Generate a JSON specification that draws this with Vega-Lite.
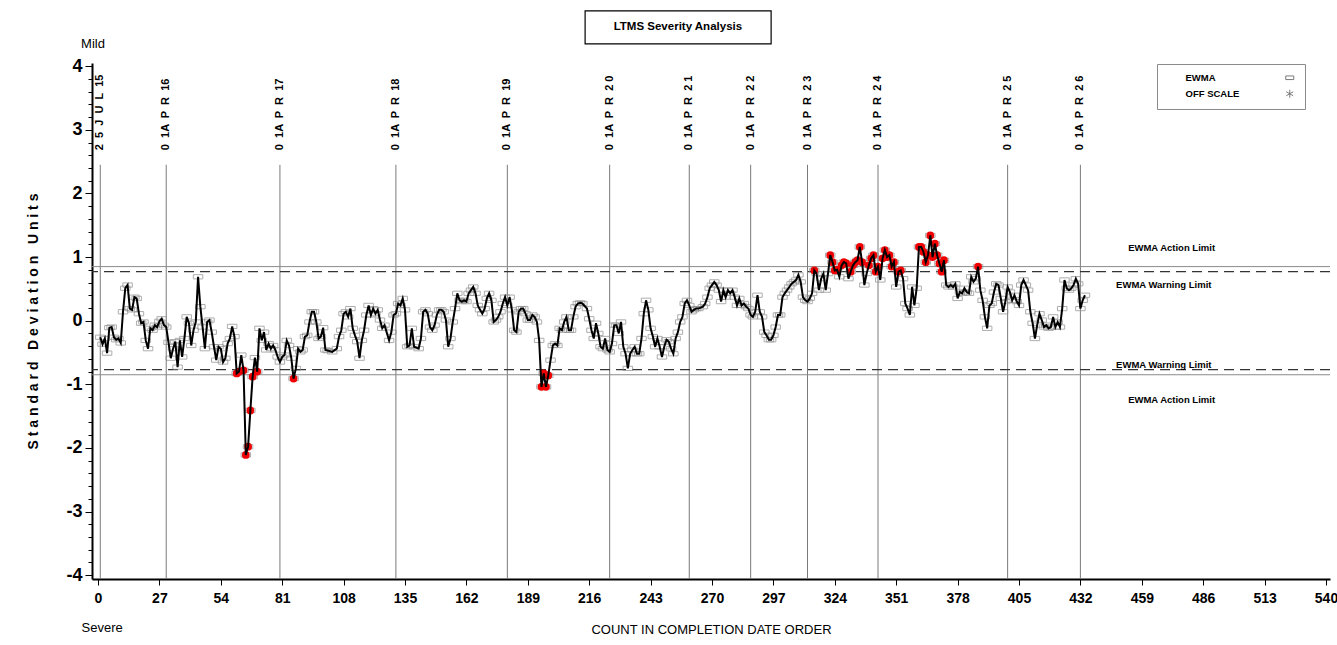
{
  "$schema": "https://vega.github.io/schema/vega-lite/v6.json",
  "width": 1238,
  "height": 516,
  "autosize": {"type": "none"},
  "padding": {"left": 92, "top": 63, "right": 7, "bottom": 66},
  "background": "white",
  "config": {"view": {"stroke": null}, "font": "Liberation Sans"},
  "datasets": {
    "dates": [
      {"n": 1, "label": "2 \u00a05 \u00a0J \u00a0U \u00a0L \u00a015"},
      {"n": 30, "label": "0 \u00a01A \u00a0P \u00a0R \u00a016"},
      {"n": 80, "label": "0 \u00a01A \u00a0P \u00a0R \u00a017"},
      {"n": 131, "label": "0 \u00a01A \u00a0P \u00a0R \u00a018"},
      {"n": 180, "label": "0 \u00a01A \u00a0P \u00a0R \u00a019"},
      {"n": 225, "label": "0 \u00a01A \u00a0P \u00a0R \u00a02 0"},
      {"n": 260, "label": "0 \u00a01A \u00a0P \u00a0R \u00a02 1"},
      {"n": 287, "label": "0 \u00a01A \u00a0P \u00a0R \u00a02 2"},
      {"n": 312, "label": "0 \u00a01A \u00a0P \u00a0R \u00a02 3"},
      {"n": 343, "label": "0 \u00a01A \u00a0P \u00a0R \u00a02 4"},
      {"n": 400, "label": "0 \u00a01A \u00a0P \u00a0R \u00a02 5"},
      {"n": 432, "label": "0 \u00a01A \u00a0P \u00a0R \u00a02 6"}
    ],
    "ewma": [
      {"n":1,"v":-0.26},{"n":2,"v":-0.37},{"n":3,"v":-0.28},{"n":4,"v":-0.51},{"n":5,"v":-0.11},{"n":6,"v":-0.10},{"n":7,"v":-0.26},{"n":8,"v":-0.30},{"n":9,"v":-0.28},{"n":10,"v":-0.35},
      {"n":11,"v":0.14},{"n":12,"v":0.51},{"n":13,"v":0.56},{"n":14,"v":0.19},{"n":15,"v":0.17},{"n":16,"v":0.37},{"n":17,"v":0.35},{"n":18,"v":0.11},{"n":19,"v":-0.04},{"n":20,"v":-0.02},
      {"n":21,"v":-0.31},{"n":22,"v":-0.44},{"n":23,"v":-0.12},{"n":24,"v":-0.15},{"n":25,"v":-0.07},{"n":26,"v":-0.10},{"n":27,"v":-0.01},{"n":28,"v":0.03},{"n":29,"v":-0.07},{"n":30,"v":-0.10},
      {"n":31,"v":-0.34},{"n":32,"v":-0.59},{"n":33,"v":-0.44},{"n":34,"v":-0.33},{"n":35,"v":-0.73},{"n":36,"v":-0.31},{"n":37,"v":-0.57},{"n":38,"v":-0.28},{"n":39,"v":0.06},{"n":40,"v":-0.04},
      {"n":41,"v":-0.39},{"n":42,"v":-0.15},{"n":43,"v":-0.02},{"n":44,"v":0.69},{"n":45,"v":0.22},{"n":46,"v":-0.10},{"n":47,"v":-0.44},{"n":48,"v":-0.02},{"n":49,"v":0.01},{"n":50,"v":-0.18},
      {"n":51,"v":-0.41},{"n":52,"v":-0.62},{"n":53,"v":-0.41},{"n":54,"v":-0.44},{"n":55,"v":-0.65},{"n":56,"v":-0.59},{"n":57,"v":-0.36},{"n":58,"v":-0.28},{"n":59,"v":-0.09},{"n":60,"v":-0.25},
      {"n":61,"v":-0.83},{"n":62,"v":-0.80},{"n":63,"v":-0.54},{"n":64,"v":-0.78},{"n":65,"v":-2.11},{"n":66,"v":-1.98},{"n":67,"v":-1.41},{"n":68,"v":-0.88},{"n":69,"v":-0.58},{"n":70,"v":-0.80},
      {"n":71,"v":-0.12},{"n":72,"v":-0.31},{"n":73,"v":-0.18},{"n":74,"v":-0.46},{"n":75,"v":-0.36},{"n":76,"v":-0.44},{"n":77,"v":-0.39},{"n":78,"v":-0.46},{"n":79,"v":-0.57},{"n":80,"v":-0.65},
      {"n":81,"v":-0.57},{"n":82,"v":-0.54},{"n":83,"v":-0.31},{"n":84,"v":-0.39},{"n":85,"v":-0.59},{"n":86,"v":-0.91},{"n":87,"v":-0.75},{"n":88,"v":-0.44},{"n":89,"v":-0.49},{"n":90,"v":-0.46},
      {"n":91,"v":-0.25},{"n":92,"v":-0.23},{"n":93,"v":-0.02},{"n":94,"v":0.14},{"n":95,"v":0.14},{"n":96,"v":-0.02},{"n":97,"v":-0.28},{"n":98,"v":-0.25},{"n":99,"v":-0.11},{"n":100,"v":-0.46},
      {"n":101,"v":-0.47},{"n":103,"v":-0.49},{"n":105,"v":-0.44},{"n":106,"v":-0.25},{"n":107,"v":-0.15},{"n":108,"v":0.11},{"n":109,"v":0.14},{"n":110,"v":0.06},
      {"n":111,"v":0.19},{"n":112,"v":-0.12},{"n":113,"v":-0.23},{"n":114,"v":-0.33},{"n":115,"v":-0.59},{"n":116,"v":-0.31},{"n":117,"v":-0.15},{"n":118,"v":0.09},{"n":119,"v":0.24},{"n":120,"v":0.09},
      {"n":121,"v":0.19},{"n":122,"v":0.11},{"n":123,"v":0.17},{"n":124,"v":0.01},{"n":125,"v":-0.12},{"n":126,"v":-0.07},{"n":128,"v":-0.31},{"n":129,"v":-0.18},{"n":130,"v":0.09},
      {"n":131,"v":0.11},{"n":132,"v":0.27},{"n":133,"v":0.24},{"n":134,"v":0.35},{"n":135,"v":0.17},{"n":136,"v":-0.41},{"n":137,"v":-0.39},{"n":138,"v":-0.12},{"n":139,"v":-0.41},
      {"n":141,"v":-0.44},{"n":142,"v":-0.28},{"n":143,"v":0.14},{"n":144,"v":0.17},{"n":145,"v":0.11},{"n":146,"v":-0.10},{"n":147,"v":-0.15},{"n":148,"v":-0.07},{"n":149,"v":0.09},{"n":150,"v":0.17},
      {"n":151,"v":0.17},{"n":152,"v":0.14},{"n":153,"v":0.01},{"n":154,"v":-0.41},{"n":155,"v":-0.28},{"n":156,"v":-0.02},{"n":157,"v":0.19},{"n":158,"v":0.43},{"n":159,"v":0.32},{"n":160,"v":0.30},
      {"n":161,"v":0.32},{"n":162,"v":0.30},{"n":163,"v":0.43},{"n":164,"v":0.48},{"n":165,"v":0.53},{"n":166,"v":0.43},{"n":167,"v":0.24},{"n":168,"v":0.17},{"n":169,"v":0.11},{"n":170,"v":0.19},
      {"n":171,"v":0.35},{"n":172,"v":0.43},{"n":173,"v":0.32},{"n":174,"v":-0.02},{"n":175,"v":0.01},{"n":176,"v":0.06},{"n":177,"v":0.14},{"n":178,"v":0.27},{"n":179,"v":0.37},{"n":180,"v":0.24},
      {"n":181,"v":0.37},{"n":182,"v":0.17},{"n":183,"v":-0.15},{"n":184,"v":-0.18},{"n":185,"v":0.14},{"n":186,"v":0.19},{"n":187,"v":0.19},{"n":188,"v":0.11},{"n":189,"v":0.01},{"n":190,"v":0.01},
      {"n":191,"v":0.09},{"n":192,"v":0.06},{"n":193,"v":-0.02},{"n":194,"v":-0.31},{"n":195,"v":-1.04},{"n":196,"v":-0.83},{"n":197,"v":-1.04},{"n":198,"v":-0.86},{"n":199,"v":-0.62},{"n":200,"v":-0.39},
      {"n":201,"v":-0.36},{"n":202,"v":-0.39},{"n":203,"v":-0.12},{"n":204,"v":-0.15},{"n":205,"v":-0.02},{"n":206,"v":0.06},{"n":207,"v":-0.15},{"n":208,"v":-0.15},{"n":209,"v":0.06},{"n":210,"v":0.22},
      {"n":211,"v":0.27},{"n":212,"v":0.28},{"n":213,"v":0.27},{"n":215,"v":0.19},{"n":216,"v":0.03},{"n":217,"v":-0.15},{"n":218,"v":-0.28},{"n":219,"v":-0.04},{"n":220,"v":-0.20},
      {"n":221,"v":-0.41},{"n":222,"v":-0.44},{"n":223,"v":-0.28},{"n":224,"v":-0.46},{"n":225,"v":-0.49},{"n":226,"v":-0.36},{"n":227,"v":-0.07},{"n":228,"v":-0.07},{"n":229,"v":-0.20},{"n":230,"v":-0.02},
      {"n":231,"v":-0.41},{"n":232,"v":-0.52},{"n":233,"v":-0.75},{"n":234,"v":-0.52},{"n":235,"v":-0.46},{"n":236,"v":-0.41},{"n":237,"v":-0.52},{"n":238,"v":-0.52},{"n":239,"v":-0.28},{"n":240,"v":0.11},
      {"n":241,"v":0.32},{"n":242,"v":0.17},{"n":243,"v":-0.12},{"n":244,"v":-0.25},{"n":245,"v":-0.41},{"n":246,"v":-0.28},{"n":247,"v":-0.41},{"n":248,"v":-0.57},{"n":249,"v":-0.41},{"n":250,"v":-0.30},
      {"n":251,"v":-0.33},{"n":252,"v":-0.44},{"n":253,"v":-0.52},{"n":254,"v":-0.28},{"n":255,"v":-0.18},{"n":256,"v":-0.02},{"n":257,"v":0.06},{"n":258,"v":0.27},{"n":259,"v":0.32},{"n":260,"v":0.24},
      {"n":261,"v":0.14},{"n":262,"v":0.17},{"n":263,"v":0.19},{"n":264,"v":0.19},{"n":266,"v":0.22},{"n":267,"v":0.27},{"n":268,"v":0.37},{"n":269,"v":0.51},{"n":270,"v":0.56},
      {"n":271,"v":0.61},{"n":272,"v":0.56},{"n":273,"v":0.48},{"n":274,"v":0.30},{"n":275,"v":0.48},{"n":276,"v":0.37},{"n":277,"v":0.48},{"n":278,"v":0.43},{"n":279,"v":0.48},{"n":280,"v":0.37},
      {"n":281,"v":0.24},{"n":282,"v":0.35},{"n":283,"v":0.24},{"n":284,"v":0.27},{"n":285,"v":0.22},{"n":286,"v":0.19},{"n":287,"v":0.09},{"n":288,"v":0.06},{"n":289,"v":0.14},{"n":290,"v":0.40},
      {"n":291,"v":0.14},{"n":292,"v":0.06},{"n":293,"v":-0.18},{"n":294,"v":-0.23},{"n":295,"v":-0.30},{"n":296,"v":-0.30},{"n":297,"v":-0.23},{"n":298,"v":-0.10},{"n":299,"v":0.09},{"n":300,"v":0.09},
      {"n":301,"v":0.37},{"n":302,"v":0.43},{"n":303,"v":0.48},{"n":304,"v":0.53},{"n":305,"v":0.58},{"n":306,"v":0.61},{"n":307,"v":0.64},{"n":308,"v":0.72},{"n":309,"v":0.61},{"n":310,"v":0.37},
      {"n":311,"v":0.32},{"n":312,"v":0.30},{"n":313,"v":0.35},{"n":314,"v":0.43},{"n":315,"v":0.79},{"n":316,"v":0.74},{"n":317,"v":0.48},{"n":318,"v":0.66},{"n":319,"v":0.74},{"n":320,"v":0.48},
      {"n":321,"v":0.74},{"n":322,"v":1.03},{"n":323,"v":0.92},{"n":324,"v":0.79},{"n":325,"v":0.80},{"n":326,"v":0.69},{"n":327,"v":0.87},{"n":328,"v":0.92},{"n":329,"v":0.90},{"n":330,"v":0.66},
      {"n":331,"v":0.77},{"n":332,"v":0.87},{"n":333,"v":0.92},{"n":334,"v":0.95},{"n":335,"v":1.16},{"n":336,"v":0.92},{"n":337,"v":0.56},{"n":338,"v":0.74},{"n":339,"v":0.87},{"n":340,"v":0.98},
      {"n":341,"v":1.03},{"n":342,"v":0.77},{"n":343,"v":0.85},{"n":344,"v":0.64},{"n":345,"v":0.98},{"n":346,"v":1.11},{"n":347,"v":1.00},{"n":348,"v":1.03},{"n":349,"v":0.85},{"n":350,"v":0.92},
      {"n":351,"v":0.53},{"n":352,"v":0.77},{"n":353,"v":0.79},{"n":354,"v":0.66},{"n":355,"v":0.27},{"n":356,"v":0.19},{"n":357,"v":0.09},{"n":358,"v":0.53},{"n":359,"v":0.24},{"n":360,"v":0.51},
      {"n":361,"v":1.16},{"n":362,"v":1.16},{"n":363,"v":1.08},{"n":364,"v":0.92},{"n":365,"v":1.03},{"n":366,"v":1.34},{"n":367,"v":1.00},{"n":368,"v":1.21},{"n":369,"v":1.03},{"n":370,"v":0.90},
      {"n":371,"v":0.77},{"n":372,"v":0.95},{"n":373,"v":0.56},{"n":374,"v":0.53},{"n":375,"v":0.56},{"n":376,"v":0.53},{"n":377,"v":0.58},{"n":378,"v":0.35},{"n":379,"v":0.45},{"n":380,"v":0.43},
      {"n":381,"v":0.51},{"n":382,"v":0.45},{"n":383,"v":0.43},{"n":384,"v":0.69},{"n":385,"v":0.61},{"n":386,"v":0.66},{"n":387,"v":0.85},{"n":388,"v":0.48},{"n":389,"v":0.32},{"n":390,"v":0.06},
      {"n":391,"v":-0.12},{"n":392,"v":0.24},{"n":393,"v":0.27},{"n":394,"v":0.45},{"n":395,"v":0.58},{"n":396,"v":0.56},{"n":397,"v":0.35},{"n":398,"v":0.14},{"n":399,"v":0.30},{"n":400,"v":0.53},
      {"n":401,"v":0.45},{"n":402,"v":0.32},{"n":403,"v":0.40},{"n":404,"v":0.30},{"n":405,"v":0.24},{"n":406,"v":0.56},{"n":407,"v":0.64},{"n":408,"v":0.56},{"n":409,"v":0.48},{"n":410,"v":0.14},
      {"n":411,"v":-0.04},{"n":412,"v":-0.28},{"n":413,"v":-0.07},{"n":414,"v":0.11},{"n":415,"v":0.01},{"n":416,"v":-0.10},{"n":417,"v":-0.07},{"n":418,"v":-0.12},{"n":419,"v":-0.10},{"n":420,"v":0.06},
      {"n":421,"v":-0.10},{"n":422,"v":-0.02},{"n":423,"v":-0.10},{"n":424,"v":0.19},{"n":425,"v":0.64},{"n":426,"v":0.51},{"n":427,"v":0.48},{"n":428,"v":0.51},{"n":429,"v":0.56},{"n":430,"v":0.66},
      {"n":431,"v":0.58},{"n":432,"v":0.19},{"n":433,"v":0.32},{"n":434,"v":0.40}
    ]
  },
  "resolve": {"axis": {"y": "independent"}},
  "layer": [
    {
      "layer": [
        {
          "data": {"name": "dates"},
          "mark": {"type": "rule", "color": "#7a7a7a", "strokeWidth": 1},
          "encoding": {
            "x": {
              "field": "n", "type": "quantitative",
              "scale": {"domain": [-2.64, 541.76], "nice": false, "zero": false},
              "axis": {
                "title": "COUNT IN COMPLETION DATE ORDER",
                "values": [0,6.75,13.5,20.25,27,33.75,40.5,47.25,54,60.75,67.5,74.25,81,87.75,94.5,101.25,108,114.75,121.5,128.25,135,141.75,148.5,155.25,162,168.75,175.5,182.25,189,195.75,202.5,209.25,216,222.75,229.5,236.25,243,249.75,256.5,263.25,270,276.75,283.5,290.25,297,303.75,310.5,317.25,324,330.75,337.5,344.25,351,357.75,364.5,371.25,378,384.75,391.5,398.25,405,411.75,418.5,425.25,432,438.75,445.5,452.25,459,465.75,472.5,479.25,486,492.75,499.5,506.25,513,519.75,526.5,533.25,540],
                "labelExpr": "datum.value % 27 === 0 ? '' + datum.value : ''",
                "tickSize": {"condition": {"test": "datum.value % 27 === 0", "value": 6}, "value": 3},
                "tickColor": "black", "tickWidth": 1,
                "domainColor": "black", "domainWidth": 2,
                "labelFont": "Liberation Sans", "labelFontSize": 14, "labelFontWeight": "bold", "labelColor": "black",
                "labelPadding": 6, "labelOverlap": false, "labelFlush": false,
                "titleFont": "Liberation Sans", "titleFontSize": 13, "titleFontWeight": "normal",
                "titleColor": "black", "titlePadding": 18,
                "grid": false
              }
            },
            "y": {
              "datum": 2.45, "type": "quantitative",
              "scale": {"domain": [-4.06, 4.05], "nice": false, "zero": false},
              "axis": {
                "title": "S t a n d a r d \u00a0 D e v i a t i o n \u00a0 U n i t s",
                "values": [-4,-3,-2,-1,0,1,2,3,4],
                "labelExpr": "'' + round(datum.value)",
                "tickSize": 7,
                "tickColor": "black", "tickWidth": 1,
                "domainColor": "black", "domainWidth": 2,
                "labelFont": "Liberation Sans", "labelFontSize": 18, "labelFontWeight": "bold", "labelColor": "black",
                "labelPadding": 3, "labelOverlap": false, "labelFlush": false,
                "titleFont": "Liberation Sans", "titleFontSize": 14, "titleFontWeight": "bold",
                "titleColor": "black", "titlePadding": 25,
                "grid": false
              }
            },
            "y2": {"datum": -4.06}
          }
        },
        {
          "data": {"name": "dates"},
          "mark": {"type": "text", "angle": 270, "align": "left", "baseline": "middle", "fontSize": 11, "fontWeight": "bold", "font": "Liberation Sans", "color": "black"},
          "encoding": {
            "x": {"field": "n", "type": "quantitative"},
            "y": {"datum": 2.68, "type": "quantitative"},
            "text": {"field": "label"}
          }
        },
        {
          "data": {"values": [{}]},
          "mark": {"type": "rule", "color": "#8a8a8a", "strokeWidth": 1},
          "encoding": {"y": {"datum": 0.85, "type": "quantitative"}}
        },
        {
          "data": {"values": [{}]},
          "mark": {"type": "rule", "color": "#8a8a8a", "strokeWidth": 1},
          "encoding": {"y": {"datum": -0.85, "type": "quantitative"}}
        },
        {
          "data": {"values": [{}]},
          "mark": {"type": "rule", "color": "#333333", "strokeWidth": 1.3, "strokeDash": [10, 6]},
          "encoding": {"y": {"datum": 0.77, "type": "quantitative"}}
        },
        {
          "data": {"values": [{}]},
          "mark": {"type": "rule", "color": "#333333", "strokeWidth": 1.3, "strokeDash": [10, 6]},
          "encoding": {"y": {"datum": -0.77, "type": "quantitative"}}
        },
        {
          "data": {"values": [{}]},
          "mark": {"type": "text", "align": "left", "baseline": "middle", "fontSize": 9.5, "fontWeight": "bold", "color": "black"},
          "encoding": {"x": {"datum": 453, "type": "quantitative"}, "y": {"datum": 1.14, "type": "quantitative"}, "text": {"value": "EWMA Action Limit"}}
        },
        {
          "data": {"values": [{}]},
          "mark": {"type": "text", "align": "left", "baseline": "middle", "fontSize": 9.5, "fontWeight": "bold", "color": "black"},
          "encoding": {"x": {"datum": 447.7, "type": "quantitative"}, "y": {"datum": 0.56, "type": "quantitative"}, "text": {"value": "EWMA Warning Limit"}}
        },
        {
          "data": {"values": [{}]},
          "mark": {"type": "text", "align": "left", "baseline": "middle", "fontSize": 9.5, "fontWeight": "bold", "color": "black"},
          "encoding": {"x": {"datum": 447.7, "type": "quantitative"}, "y": {"datum": -0.70, "type": "quantitative"}, "text": {"value": "EWMA Warning Limit"}}
        },
        {
          "data": {"values": [{}]},
          "mark": {"type": "text", "align": "left", "baseline": "middle", "fontSize": 9.5, "fontWeight": "bold", "color": "black"},
          "encoding": {"x": {"datum": 453, "type": "quantitative"}, "y": {"datum": -1.25, "type": "quantitative"}, "text": {"value": "EWMA Action Limit"}}
        },
        {
          "data": {"name": "ewma"},
          "mark": {"type": "point", "filled": false, "stroke": "#8c8c8c", "strokeWidth": 1, "size": 90},
          "encoding": {
            "x": {"field": "n", "type": "quantitative"},
            "y": {"field": "v", "type": "quantitative"},
            "shape": {
              "datum": "EWMA",
              "scale": {"domain": ["EWMA", "OFF SCALE"], "range": ["M-1,-0.45L1,-0.45L1,0.45L-1,0.45Z", "M0,-1L0,1M-0.87,-0.5L0.87,0.5M-0.87,0.5L0.87,-0.5"]},
              "legend": {
                "title": null, "orient": "none", "legendX": 1065, "legendY": 1,
                "strokeColor": "#8a8a8a", "fillColor": "white", "padding": 9,
                "labelFont": "Liberation Sans", "labelFontSize": 9.5, "labelFontWeight": "bold", "labelColor": "black",
                "labelOffset": -109, "symbolOffset": 119, "symbolStrokeColor": "#444444", "symbolFillColor": "transparent",
                "symbolSize": 64, "symbolStrokeWidth": 1, "rowPadding": 4
              }
            }
          }
        },
        {
          "data": {"name": "ewma"},
          "transform": [{"filter": "abs(datum.v) > 0.765"}],
          "mark": {"type": "circle", "color": "#f00000", "size": 60, "opacity": 1},
          "encoding": {
            "x": {"field": "n", "type": "quantitative"},
            "y": {"field": "v", "type": "quantitative"}
          }
        },
        {
          "data": {"name": "ewma"},
          "mark": {"type": "line", "color": "black", "strokeWidth": 2},
          "encoding": {
            "x": {"field": "n", "type": "quantitative"},
            "y": {"field": "v", "type": "quantitative"}
          }
        },
        {
          "data": {"values": [{}]},
          "mark": {"type": "text", "align": "center", "baseline": "middle", "fontSize": 13, "color": "black"},
          "encoding": {"x": {"datum": -2.2, "type": "quantitative"}, "y": {"datum": 4.35, "type": "quantitative"}, "text": {"value": "Mild"}}
        },
        {
          "data": {"values": [{}]},
          "mark": {"type": "text", "align": "center", "baseline": "middle", "fontSize": 13, "color": "black"},
          "encoding": {"x": {"datum": 1.8, "type": "quantitative"}, "y": {"datum": -4.83, "type": "quantitative"}, "text": {"value": "Severe"}}
        },
        {
          "data": {"values": [{}]},
          "mark": {"type": "rect", "fill": "white", "stroke": "black", "strokeWidth": 1.2},
          "encoding": {"x": {"datum": 214.2, "type": "quantitative"}, "x2": {"datum": 296}, "y": {"datum": 4.87, "type": "quantitative"}, "y2": {"datum": 4.35}}
        },
        {
          "data": {"values": [{}]},
          "mark": {"type": "text", "align": "center", "baseline": "middle", "fontSize": 11.5, "fontWeight": "bold", "color": "black"},
          "encoding": {"x": {"datum": 255, "type": "quantitative"}, "y": {"datum": 4.61, "type": "quantitative"}, "text": {"value": "LTMS Severity Analysis"}}
        }
      ]
    },
    {
      "data": {"values": [{}]},
      "mark": {"type": "rule", "opacity": 0},
      "encoding": {
        "y": {
          "datum": 0, "type": "quantitative",
          "axis": {
            "orient": "left", "title": null, "labels": false, "domain": false,
            "values": [-3.8,-3.6,-3.4,-3.2,-2.8,-2.6,-2.4,-2.2,-1.8,-1.6,-1.4,-1.2,-0.8,-0.6,-0.4,-0.2,0.2,0.4,0.6,0.8,1.2,1.4,1.6,1.8,2.2,2.4,2.6,2.8,3.2,3.4,3.6,3.8],
            "tickSize": 4, "tickColor": "black", "tickWidth": 1, "grid": false
          }
        }
      }
    }
  ]
}
